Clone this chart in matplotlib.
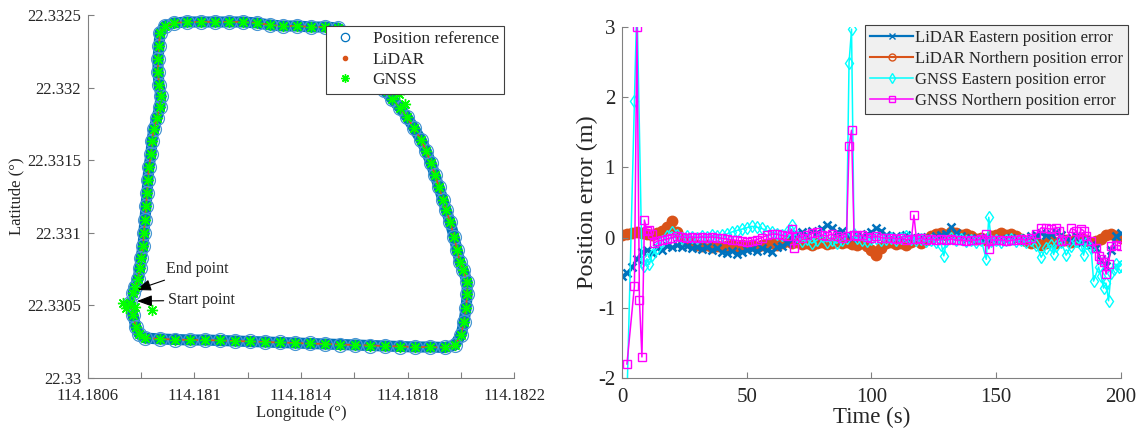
import numpy as np
import matplotlib
matplotlib.use("Agg")
import matplotlib.pyplot as plt
from matplotlib.ticker import FuncFormatter

plt.rcParams['font.family'] = ['Liberation Serif', 'DejaVu Serif']
plt.rcParams['axes.unicode_minus'] = False

# --- trajectory (left panel), degrees ---
traj_lon = [114.180758, 114.180769, 114.180780, 114.180792, 114.180814,
            114.180870, 114.180927, 114.180983, 114.181039, 114.181096,
            114.181152, 114.181209, 114.181265, 114.181321, 114.181378,
            114.181434, 114.181490, 114.181547, 114.181603, 114.181659,
            114.181716, 114.181772, 114.181828, 114.181885, 114.181941,
            114.181978, 114.182001, 114.182012, 114.182020, 114.182024,
            114.182024, 114.182009, 114.181997, 114.181986, 114.181975,
            114.181960, 114.181945, 114.181933, 114.181918, 114.181903,
            114.181888, 114.181870, 114.181851, 114.181824, 114.181798,
            114.181772, 114.181742, 114.181712, 114.181682, 114.181652,
            114.181622, 114.181592, 114.181565, 114.181539, 114.181490,
            114.181438, 114.181385, 114.181332, 114.181284, 114.181235,
            114.181182, 114.181130, 114.181077, 114.181024, 114.180972,
            114.180923, 114.180889, 114.180870, 114.180867, 114.180863,
            114.180863, 114.180867, 114.180874, 114.180870, 114.180859,
            114.180848, 114.180840, 114.180837, 114.180829, 114.180825,
            114.180822, 114.180818, 114.180814, 114.180810, 114.180807,
            114.180799, 114.180795, 114.180788, 114.180776, 114.180769]
traj_lat = [22.3305165, 22.3304339, 22.3303512, 22.3303030, 22.3302755,
            22.3302686, 22.3302651, 22.3302617, 22.3302617, 22.3302583,
            22.3302548, 22.3302514, 22.3302479, 22.3302445, 22.3302410,
            22.3302376, 22.3302342, 22.3302307, 22.3302273, 22.3302238,
            22.3302204, 22.3302169, 22.3302135, 22.3302135, 22.3302101,
            22.3302273, 22.3302961, 22.3303857, 22.3304821, 22.3305785,
            22.3306612, 22.3307438, 22.3307989, 22.3308815, 22.3309711,
            22.3310744, 22.3311570, 22.3312259, 22.3313154, 22.3313981,
            22.3314807, 22.3315633, 22.3316391, 22.3317218, 22.3317975,
            22.3318595, 22.3319215, 22.3319835, 22.3320592, 22.3321419,
            22.3322245, 22.3323071, 22.3323760, 22.3324105, 22.3324173,
            22.3324173, 22.3324242, 22.3324242, 22.3324311, 22.3324449,
            22.3324518, 22.3324518, 22.3324518, 22.3324518, 22.3324518,
            22.3324449, 22.3324242, 22.3323760, 22.3322865, 22.3321970,
            22.3321074, 22.3320179, 22.3319421, 22.3318664, 22.3317906,
            22.3317149, 22.3316322, 22.3315427, 22.3314532, 22.3313636,
            22.3312741, 22.3311846, 22.3310881, 22.3309986, 22.3309091,
            22.3308264, 22.3307576, 22.3306818, 22.3306267, 22.3305854]
# GNSS outliers around the start point and on the north-east road
gnss_extra_lon = [114.180732, 114.180743, 114.180777, 114.180840, 114.181768, 114.181791]
gnss_extra_lat = [22.3305165, 22.3304821, 22.3304890, 22.3304683, 22.3319559, 22.3318870]

# --- position errors (right panel), metres ---
lidar_t = np.arange(0, 201, 2)
lidar_e = [-0.55, -0.50, -0.42, -0.30, -0.20, -0.17, -0.22, -0.15, -0.18, -0.12,
           -0.14, -0.10, -0.13, -0.12, -0.15, -0.13, -0.16, -0.14, -0.18, -0.15,
           -0.20, -0.22, -0.19, -0.23, -0.20, -0.18, -0.16, -0.19, -0.15, -0.17,
           -0.20, -0.14, -0.12, -0.08, -0.02, 0.05, 0.08, 0.04, 0.10, 0.07,
           0.12, 0.18, 0.14, 0.08, 0.10, 0.04, 0.00, 0.03, 0.02, 0.05,
           0.08, 0.14, 0.10, 0.04, 0.00, 0.02, -0.01, 0.03, 0.00, -0.02,
           0.01, -0.03, 0.00, 0.02, 0.04, 0.05, 0.15, 0.06, 0.02, -0.02,
           0.00, -0.04, -0.02, 0.00, -0.03, -0.05, -0.02, -0.04, -0.01, -0.03,
           -0.02, 0.00, 0.02, 0.04, 0.06, 0.03, 0.05, 0.08, 0.04, 0.00,
           -0.05, 0.02, -0.08, -0.03, -0.10, -0.15, -0.32, -0.40, -0.18, 0.02,
           0.06]
lidar_n = [0.03, 0.05, 0.06, 0.08, 0.07, 0.05, 0.04, 0.06, 0.10, 0.15,
           0.24, 0.08, 0.00, -0.05, -0.08, -0.10, -0.12, -0.11, -0.13, -0.12,
           -0.14, -0.12, -0.10, -0.13, -0.11, -0.12, -0.10, -0.13, -0.11, -0.09,
           -0.08, -0.10, -0.07, -0.05, -0.08, -0.06, -0.09, -0.07, -0.10, -0.08,
           -0.06, -0.09, -0.07, -0.05, -0.08, -0.06, -0.09, -0.11, -0.08, -0.12,
           -0.18, -0.25, -0.15, -0.08, -0.06, -0.09, -0.07, -0.10, -0.06, -0.04,
           -0.07, -0.03, 0.02, 0.05, 0.07, 0.04, 0.08, 0.06, 0.03, 0.05,
           0.02, -0.02, 0.00, -0.04, 0.02, 0.04, 0.06, 0.03, 0.05, 0.02,
           -0.02, -0.05, -0.08, -0.06, -0.10, -0.07, -0.04, -0.08, -0.05, -0.03,
           -0.06, -0.02, 0.00, -0.04, -0.07, -0.05, -0.02, 0.03, 0.05, 0.02,
           0.00]

gnss_e_t = [2, 5, 6, 8, 9, 10, 11, 12, 14, 16, 18, 20, 22, 24, 26, 28, 30, 32, 34, 36,
            38, 40, 42, 44, 46, 48, 50, 52, 54, 56, 58, 60, 62, 64, 66, 68, 70, 72, 74, 76,
            78, 80, 82, 84, 86, 88, 90, 91, 92, 93, 94, 96, 98, 100, 102, 104, 106, 108, 110, 112,
            114, 116, 118, 120, 122, 124, 126, 128, 129, 130, 132, 134, 136, 138, 140, 142, 144, 146, 147, 148,
            150, 152, 154, 156, 158, 160, 162, 164, 166, 168, 170, 172, 173, 174, 176, 178, 180, 182, 184, 185,
            186, 188, 189, 191, 192, 193, 194, 195, 196, 197, 198, 199, 200]
gnss_e = [-2.30, 1.95, 3.40, -0.35, -0.40, -0.30, -0.38, -0.25, -0.15, -0.05, 0.02, 0.08, 0.04, 0.00, 0.02, 0.01, 0.00, 0.02, 0.01, 0.03,
          0.02, 0.04, 0.05, 0.08, 0.10, 0.12, 0.14, 0.16, 0.15, 0.13, 0.10, 0.08, 0.05, 0.03, 0.08, 0.18, 0.02, -0.05, -0.02, -0.08,
          -0.04, 0.02, -0.06, -0.03, -0.08, -0.04, 0.00, 2.49, 2.97, 0.05, 0.00, -0.03, -0.05, -0.02, 0.00, -0.04, -0.02, 0.00, -0.03, -0.01,
          0.02, -0.02, -0.04, -0.02, -0.05, -0.03, -0.06, -0.10, -0.26, -0.05, 0.00, -0.04, -0.02, -0.05, -0.03, -0.06, -0.04, -0.31, 0.29, -0.05,
          -0.03, -0.06, -0.04, -0.02, -0.05, -0.03, -0.06, -0.04, -0.10, -0.28, -0.15, -0.10, -0.24, -0.12, -0.06, -0.25, -0.12, -0.05, -0.10, -0.25,
          -0.08, -0.15, -0.62, -0.42, -0.55, -0.72, -0.65, -0.90, -0.50, -0.45, -0.38, -0.42, -0.40]

gnss_n_t = [2, 5, 6, 7, 8, 9, 10, 11, 12, 13, 14, 16, 18, 20, 22, 24, 26, 28, 30, 32,
            34, 36, 38, 40, 42, 44, 46, 48, 50, 52, 54, 56, 58, 60, 62, 64, 66, 68, 69, 70,
            72, 74, 76, 78, 80, 82, 84, 86, 88, 90, 91, 92, 93, 94, 96, 98, 100, 102, 104, 106,
            108, 110, 112, 114, 116, 117, 118, 120, 122, 124, 126, 128, 130, 132, 134, 136, 138, 140, 142, 144,
            146, 147, 148, 150, 152, 154, 156, 158, 160, 162, 164, 166, 168, 170, 172, 174, 175, 176, 178, 180,
            182, 183, 184, 185, 186, 188, 190, 191, 192, 193, 194, 195, 196, 198, 200]
gnss_n = [-1.80, -0.69, 3.00, -0.89, -1.70, 0.25, 0.10, 0.11, 0.05, -0.08, -0.05, -0.04, -0.02, 0.00, 0.02, 0.01, 0.00, 0.01, 0.00, 0.01,
          0.00, 0.01, 0.00, -0.01, -0.02, -0.03, -0.04, -0.05, -0.06, -0.05, -0.03, 0.00, 0.03, 0.05, 0.05, 0.03, 0.02, 0.12, -0.15, 0.02,
          0.00, 0.03, 0.06, 0.08, 0.04, 0.02, 0.05, 0.02, 0.00, 0.02, 1.30, 1.53, 0.04, 0.02, 0.03, 0.01, 0.00, 0.02, 0.00, -0.01,
          0.00, -0.02, -0.01, -0.03, -0.02, 0.32, -0.02, -0.01, -0.03, -0.02, -0.04, -0.02, -0.03, -0.02, -0.04, -0.03, -0.05, -0.03, -0.04, -0.02,
          0.05, -0.16, -0.03, -0.04, -0.03, -0.05, -0.04, -0.03, -0.02, -0.04, 0.00, 0.05, 0.14, 0.13, 0.12, 0.14, 0.10, -0.05, -0.03, 0.13,
          0.10, -0.03, 0.12, 0.10, 0.02, -0.05, -0.15, -0.26, -0.30, -0.35, -0.52, -0.37, -0.12, -0.11, -0.12]

lon_ticks = [114.1806, 114.1808, 114.1810, 114.1812, 114.1814, 114.1816, 114.1818, 114.1820, 114.1822]
lon_labels = ['114.1806', '', '114.181', '', '114.1814', '', '114.1818', '', '114.1822']
lat_ticks = [22.3300, 22.3305, 22.3310, 22.3315, 22.3320, 22.3325]

BLUE = '#0072BD'
ORANGE = '#D95319'
GREY = '#808080'
TXT = '#262626'
ASTERISK = (8, 2, 0)   # MATLAB-like '*' marker


def style_axes(ax, tick_size):
    for side in ['top', 'right']:
        ax.spines[side].set_visible(False)
    for side in ['left', 'bottom']:
        ax.spines[side].set_color(GREY)
        ax.spines[side].set_linewidth(0.8)
    ax.tick_params(direction='in', length=4, width=0.8, color=GREY,
                   labelcolor=TXT, labelsize=tick_size)
    ax.tick_params(axis='x', pad=7)
    ax.tick_params(axis='y', pad=5)


fig = plt.figure(figsize=(11.41, 4.32), dpi=100)

# ---------------- left: trajectory ----------------
ax1 = fig.add_axes([0.0771, 0.125, 0.3734, 0.8403])
ax1.plot(traj_lon, traj_lat, color=BLUE, lw=8, solid_joinstyle='round',
         solid_capstyle='round', zorder=1)
ax1.plot(traj_lon, traj_lat, 'o', mfc='none', mec='#4a97d4', ms=10, mew=0.9,
         label='Position reference', zorder=2)
ax1.plot(traj_lon, traj_lat, '--', color=ORANGE, lw=1.3, zorder=3)
ax1.plot(traj_lon, traj_lat, '.', color=ORANGE, ms=3, ls='none',
         label='LiDAR', zorder=3)
ax1.plot(traj_lon + gnss_extra_lon, traj_lat + gnss_extra_lat, marker=ASTERISK,
         color='#00FF00', ms=8, mew=1.0, ls='none', label='GNSS', zorder=4)

arrow = dict(arrowstyle='-|>,head_length=0.8,head_width=0.3',
             color='k', lw=0.8, shrinkA=1, shrinkB=0)
ax1.annotate('End point', xy=(114.180780, 22.330606), xytext=(114.180893, 22.330751),
             fontsize=11.5, color=TXT, va='center', ha='left', arrowprops=arrow)
ax1.annotate('Start point', xy=(114.180784, 22.330530), xytext=(114.180900, 22.330535),
             fontsize=11.5, color=TXT, va='center', ha='left', arrowprops=arrow)

ax1.set_xlim(114.1806, 114.1822)
ax1.set_ylim(22.3300, 22.3325)
ax1.set_xticks(lon_ticks)
ax1.set_xticklabels(lon_labels)
ax1.set_yticks(lat_ticks)
ax1.yaxis.set_major_formatter(FuncFormatter(lambda v, p: ('%.4f' % v).rstrip('0').rstrip('.')))
style_axes(ax1, 12)
ax1.set_xlabel('Longitude (°)', fontsize=12, color=TXT, labelpad=1)
ax1.set_ylabel('Latitude (°)', fontsize=12, color=TXT, labelpad=2)

leg1 = ax1.legend(loc='upper right', bbox_to_anchor=(0.9765, 0.9697), fontsize=12.5,
                  frameon=True, fancybox=False, edgecolor='#404040', framealpha=1,
                  handlelength=1.6, handletextpad=0.8, labelspacing=0.25,
                  borderpad=0.3, borderaxespad=0)
leg1.get_frame().set_linewidth(0.8)
for t in leg1.get_texts():
    t.set_color(TXT)
leg1.legend_handles[0].set_markeredgecolor(BLUE)
for h in leg1.legend_handles:
    h.set_markersize(6)

# ---------------- right: position errors ----------------
ax2 = fig.add_axes([0.5451, 0.125, 0.4374, 0.8125])
ax2.plot(lidar_t, lidar_e, '-x', color=BLUE, lw=1.6, ms=6, mew=1.8,
         label='LiDAR Eastern position error', zorder=2)
ax2.plot(lidar_t, lidar_n, '-o', color=ORANGE, lw=1.5, ms=7, mew=1.5, mfc=ORANGE,
         label='LiDAR Northern position error', zorder=1)
ax2.plot(gnss_e_t, gnss_e, '-d', color='#00FFFF', lw=1.1, ms=6, mew=1.0, mfc='none',
         label='GNSS Eastern position error', zorder=3)
ax2.plot(gnss_n_t, gnss_n, '-s', color='#FF00FF', lw=1.1, ms=6, mew=1.0, mfc='none',
         label='GNSS Northern position error', zorder=4)

ax2.set_xlim(0, 200)
ax2.set_ylim(-2, 3)
ax2.set_xticks([0, 50, 100, 150, 200])
ax2.set_yticks([-2, -1, 0, 1, 2, 3])
style_axes(ax2, 15)
ax2.set_xlabel('Time (s)', fontsize=16.5, color=TXT, labelpad=0)
ax2.set_ylabel('Position error (m)', fontsize=17.5, color=TXT, labelpad=0)

leg2 = ax2.legend(loc='upper right', bbox_to_anchor=(1.014, 1.0057), fontsize=12,
                  frameon=True, fancybox=False, edgecolor='#404040', facecolor='#f0f0f0',
                  framealpha=1, handlelength=2.6, handletextpad=0.1, labelspacing=0.3,
                  borderpad=0.3, borderaxespad=0)
leg2.get_frame().set_linewidth(0.8)
for t in leg2.get_texts():
    t.set_color(TXT)
for h in leg2.legend_handles:
    h.set_markersize(5)
    h.set_markeredgewidth(1.0)
# open circle in the legend, as in the original figure
leg2.legend_handles[1].set_markerfacecolor('none')

fig.savefig('out.png', dpi=100, facecolor='white')
